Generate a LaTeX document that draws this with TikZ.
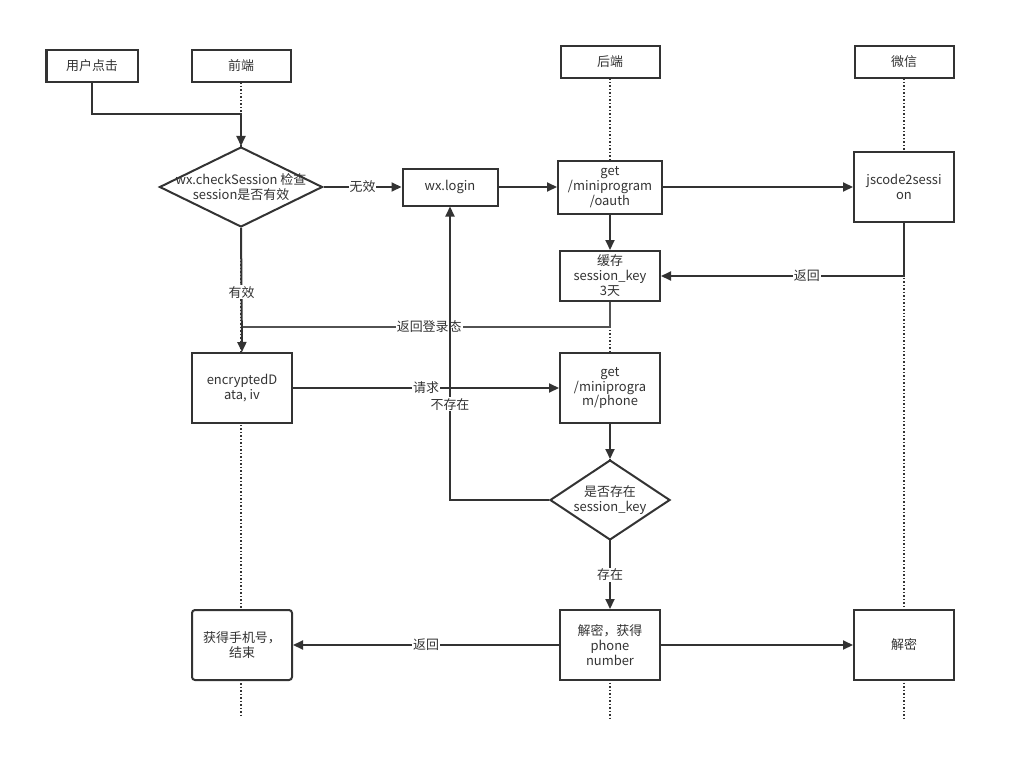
\documentclass[tikz,border=0pt]{standalone}
\usepackage{fontspec}
\setmainfont{Noto Sans CJK SC}
\usetikzlibrary{shapes,arrows.meta,positioning}
\definecolor{ink}{HTML}{333333}
\tikzset{every node/.style={font=\fontsize{13}{15}\selectfont, text=ink},
head/.style={draw=ink, fill=white, minimum width=99bp, minimum height=31bp, inner sep=0pt},
box/.style={draw=ink, fill=white, minimum width=100bp, minimum height=70bp, align=center, inner sep=1bp},
choice/.style={draw=ink, fill=white, diamond, inner sep=0pt},
lbl/.style={fill=white, inner sep=1bp},
life/.style={dotted, line width=1.5bp, draw=ink}
}

\begin{document}
\begin{tikzpicture}[x=1bp, y=-1bp, line width=2bp, draw=ink,
        >={Triangle[length=10bp,width=9bp]}]
        \useasboundingbox (0,0) rectangle (1016,781);
        % lanes
        \node[head,minimum width=91bp] (user)   at (92,66)  {用户点击};
        \node[head]                    (front)  at (241,66) {前端};
        \node[head]                    (back)   at (610,62) {后端};
        \node[head]                    (wechat) at (904,62) {微信};
        \coordinate (front end)  at (241,716);
        \coordinate (back end)   at (610,718);
        \coordinate (wechat end) at (904,718);
        \draw[life] (front) -- (front end);
        \draw[life] (back) -- (back end);
        \draw[life] (wechat) -- (wechat end);

        % steps
        \node[choice,minimum width=163bp,minimum height=80bp] (check) at (241,187) {};
        \node[align=center] (check text) at (check) {wx.checkSession 检查\\session是否有效};
        \node[box,minimum width=95bp,minimum height=37bp] (login) at (450,187) {wx.login};
        \node[box,minimum width=104bp,minimum height=53bp] (oauth) at (610,187) {get\\/miniprogram\\/oauth};
        \node[box,minimum height=70bp] (jscode) at (904,187) {jscode2sessi\\on};
        \node[box,minimum height=50bp] (cache) at (610,276) {缓存\\session\_key\\3天};
        \node[box] (enc)   at (242,388) {encryptedD\\ata, iv};
        \node[box] (phone) at (610,388) {get\\/miniprogra\\m/phone};
        \node[choice,minimum width=120bp,minimum height=80bp] (exists) at (610,500) {};
        \node[align=center] (exists text) at (exists) {是否存在\\session\_key};
        \node[box] (decrypt) at (610,645) {解密，获得\\phone\\number};
        \node[box,rounded corners=3bp] (done) at (242,645) {获得手机号，\\结束};
        \node[box] (wxdecrypt) at (904,645) {解密};

        % flow
        \coordinate (click in)  at (241,114);
        \coordinate (state out) at (241,327);
        \draw[->] (user.south) |- (click in) -- (check.north);
        \draw[->] (check.east) -- node[lbl] {无效} (login.west);
        \draw[->] (login) -- (oauth);
        \draw[->] (oauth) -- (jscode);
        \draw[->] (oauth) -- (cache);
        \draw[->] (jscode.south) |- node[lbl,pos=0.7] {返回} (cache.east);
        \draw[line width=1.7bp, draw=ink!85] (cache.south) |- node[lbl,pos=0.745] {返回登录态} (state out);
        \draw[->] (check.south) -- node[lbl,pos=0.52] {有效} (enc.north);
        \draw[->] (enc) -- node[lbl] {请求} (phone);
        \draw[->] (phone) -- (exists);
        \draw[->] (exists.west) -| node[lbl,pos=0.663] {不存在} (login.south);
        \draw[->] (exists.south) -- node[lbl] {存在} (decrypt.north);
        \draw[->] (decrypt) -- node[lbl] {返回} (done);
        \draw[->] (decrypt) -- (wxdecrypt);
\end{tikzpicture}
\end{document}
